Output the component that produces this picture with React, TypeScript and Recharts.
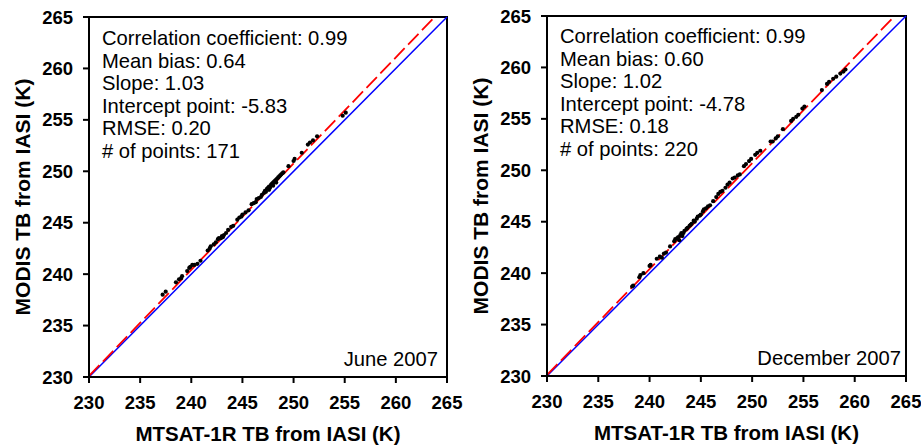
import * as React from "react";
import { ReferenceArea, ReferenceLine, Scatter, ScatterChart, XAxis, YAxis } from "recharts";

const FONT = "'Liberation Sans', Arial, Helvetica, sans-serif";

const axisTicks = [230, 235, 240, 245, 250, 255, 260, 265];
const axisDomain: [number, number] = [230, 265];

// June 2007 collocations (MTSAT-1R TB, MODIS TB)
const juneX = [
  237.2, 237.5, 238.5, 238.8, 239.0, 239.1, 239.6, 239.8, 239.9, 240.1, 240.3, 240.6, 240.9, 241.6, 241.8,
  241.9, 242.2, 242.4, 242.6, 242.7, 242.9, 243.1, 243.2, 243.4, 243.6, 243.9, 244.1, 244.5, 244.7, 244.9,
  245.3, 245.6, 245.9, 246.1, 246.4, 246.6, 246.8, 246.9, 247.1, 247.2, 247.3, 247.4, 247.5, 247.6, 247.7,
  247.8, 247.9, 248.0, 248.1, 248.2, 248.3, 248.4, 248.5, 248.6, 248.7, 248.8, 248.9, 249.0, 247.6, 248.0,
  248.3, 246.3, 245.0, 243.0, 249.5, 250.0, 250.1, 250.8, 251.4, 251.6, 251.9, 252.3, 254.8, 255.1,
];
const juneY = [
  238.0, 238.3, 239.2, 239.5, 239.6, 239.8, 240.3, 240.6, 240.7, 240.9, 240.9, 241.0, 241.3, 242.3, 242.5,
  242.7, 242.9, 243.1, 243.4, 243.5, 243.5, 243.6, 243.8, 244.0, 244.3, 244.6, 244.7, 245.3, 245.5, 245.6,
  246.0, 246.2, 246.8, 246.9, 247.3, 247.4, 247.5, 247.7, 247.9, 248.1, 248.0, 248.3, 248.4, 248.5, 248.4,
  248.7, 248.8, 248.9, 249.0, 249.1, 249.2, 249.3, 249.4, 249.5, 249.6, 249.7, 249.8, 249.9, 248.2, 248.6,
  248.9, 247.0, 245.8, 243.7, 250.5, 251.0, 251.2, 251.8, 252.6, 252.8, 253.0, 253.4, 255.4, 255.7,
];

// December 2007 collocations
const decX = [
  238.3, 238.4, 239.0, 239.1, 239.4, 240.0, 240.1, 240.7, 241.0, 241.2, 241.4, 241.6, 242.0, 242.4, 242.5,
  242.7, 242.8, 242.9, 243.0, 243.1, 243.2, 243.3, 243.4, 243.6, 243.7, 243.9, 244.0, 244.1, 244.3, 244.4,
  244.6, 244.7, 244.9, 245.0, 245.2, 245.3, 245.5, 245.7, 245.9, 246.2, 246.5, 246.7, 246.9, 247.1, 247.4,
  247.6, 247.8, 248.1, 248.3, 248.6, 248.8, 249.2, 249.4, 249.7, 249.9, 250.3, 250.5, 250.8, 251.8, 252.0,
  252.3, 252.5, 253.0, 253.8, 254.0, 254.3, 254.5, 254.9, 255.1, 256.8, 257.3, 257.5, 257.9, 258.2, 258.6,
  258.9, 259.1,
];
const decY = [
  238.7, 238.8, 239.6, 239.8, 240.0, 240.7, 240.8, 241.4, 241.6, 241.5, 241.9, 242.0, 242.6, 243.1, 243.3,
  243.4, 243.5, 243.2, 243.7, 243.9, 243.6, 243.9, 244.1, 244.3, 244.4, 244.6, 244.7, 244.8, 245.1, 245.0,
  245.3, 245.5, 245.6, 245.7, 246.0, 246.2, 246.3, 246.5, 246.6, 247.0, 247.4, 247.7, 247.9, 248.0, 248.3,
  248.6, 248.8, 249.2, 249.3, 249.5, 249.6, 250.4, 250.6, 250.9, 251.1, 251.5, 251.7, 251.9, 252.8, 252.8,
  253.1, 253.3, 254.0, 254.8, 255.0, 255.2, 255.4, 256.0, 256.2, 257.8, 258.4, 258.6, 258.9, 259.1, 259.4,
  259.6, 259.8,
];

// 1:1 line and fitted (red dashed) line endpoints
const oneToOne = [
  { x: 230, y: 230 },
  { x: 265, y: 265 },
];
const juneFit = [
  { x: 230, y: 230.1 },
  { x: 263.8, y: 265 },
];
const decFit = [
  { x: 230, y: 230.1 },
  { x: 263.9, y: 265 },
];

const juneStats = [
  "Correlation coefficient: 0.99",
  "Mean bias: 0.64",
  "Slope: 1.03",
  "Intercept point: -5.83",
  "RMSE: 0.20",
  "# of points: 171",
];
const decStats = [
  "Correlation coefficient: 0.99",
  "Mean bias: 0.60",
  "Slope: 1.02",
  "Intercept point: -4.78",
  "RMSE: 0.18",
  "# of points: 220",
];

interface PanelProps {
  xs: number[];
  ys: number[];
  fit: { x: number; y: number }[];
  stats: string[];
  month: string;
  left: number;
  width: number;
  top: number;
  right: number;
  xAxisHeight: number;
  statsTop: number;
  monthInset: number;
}

function Panel(props: PanelProps): React.JSX.Element {
  const { xs, ys, fit, stats, month, left, width, top, right, xAxisHeight, statsTop, monthInset } = props;
  const data = xs.map((x, i) => ({ x, y: ys[i] }));

  const frameLabel = ({ viewBox }: any) => (
    <g fontFamily={FONT} fontSize={20.2} fill="#000">
      {stats.map((s, i) => (
        <text key={s} x={viewBox.x + 13} y={viewBox.y + statsTop + i * 22.5}>
          {s}
        </text>
      ))}
      <text x={viewBox.x + viewBox.width - monthInset} y={viewBox.y + viewBox.height - 11} textAnchor="end">
        {month}
      </text>
    </g>
  );

  const xTitle = ({ viewBox }: any) => (
    <text
      x={viewBox.x + viewBox.width / 2}
      y={viewBox.y + 64}
      textAnchor="middle"
      fontFamily={FONT}
      fontSize={20.5}
      fontWeight="bold"
      fill="#000"
    >
      MTSAT-1R TB from IASI (K)
    </text>
  );

  const yTitle = ({ viewBox }: any) => {
    const cx = 29.5;
    const cy = viewBox.y + viewBox.height / 2;
    return (
      <text
        x={cx}
        y={cy}
        transform={`rotate(-90, ${cx}, ${cy})`}
        textAnchor="middle"
        fontFamily={FONT}
        fontSize={21}
        fontWeight="bold"
        fill="#000"
      >
        MODIS TB from IASI (K)
      </text>
    );
  };

  const tickStyle = { fill: "#000", fontSize: 18.5, fontWeight: "bold", fontFamily: FONT };

  return (
    <div style={{ position: "absolute", left, top: 0 }}>
      <ScatterChart width={width} height={446} margin={{ top, right, bottom: 0, left: 0 }} style={{ overflow: "visible" }}>
        <XAxis
          type="number"
          dataKey="x"
          domain={axisDomain}
          ticks={axisTicks}
          allowDataOverflow
          height={xAxisHeight}
          tickSize={6}
          tickMargin={13}
          tick={tickStyle}
          tickLine={{ stroke: "#000", strokeWidth: 2 }}
          axisLine={{ stroke: "#000", strokeWidth: 2 }}
          label={xTitle}
        />
        <YAxis
          type="number"
          dataKey="y"
          domain={axisDomain}
          ticks={axisTicks}
          allowDataOverflow
          width={89}
          tickSize={6}
          tickMargin={10}
          tick={tickStyle}
          tickLine={{ stroke: "#000", strokeWidth: 2 }}
          axisLine={{ stroke: "#000", strokeWidth: 2 }}
          label={yTitle}
        />
        <ReferenceArea
          x1={230}
          x2={265}
          y1={230}
          y2={265}
          fill="none"
          fillOpacity={0}
          stroke="#000"
          strokeWidth={2}
          label={frameLabel}
        />
        <Scatter
          data={data}
          isAnimationActive={false}
          shape={(p: any) => <circle cx={p.cx} cy={p.cy} r={2.1} fill="#000" />}
        />
        <ReferenceLine segment={oneToOne} stroke="#0000ff" strokeWidth={1.5} />
        <ReferenceLine segment={fit} stroke="#ff0000" strokeWidth={1.8} strokeDasharray="15 5" />
      </ScatterChart>
    </div>
  );
}

export default function App(): React.JSX.Element {
  return (
    <div style={{ position: "absolute", left: 0, top: 0, width: 921, height: 446, background: "#fff" }}>
      <Panel
        xs={juneX}
        ys={juneY}
        fit={juneFit}
        stats={juneStats}
        month="June 2007"
        left={0}
        width={470}
        top={17}
        right={23}
        xAxisHeight={69}
        statsTop={28}
        monthInset={9}
      />
      <Panel
        xs={decX}
        ys={decY}
        fit={decFit}
        stats={decStats}
        month="December 2007"
        left={458}
        width={463}
        top={16}
        right={15}
        xAxisHeight={70}
        statsTop={27}
        monthInset={5}
      />
    </div>
  );
}
